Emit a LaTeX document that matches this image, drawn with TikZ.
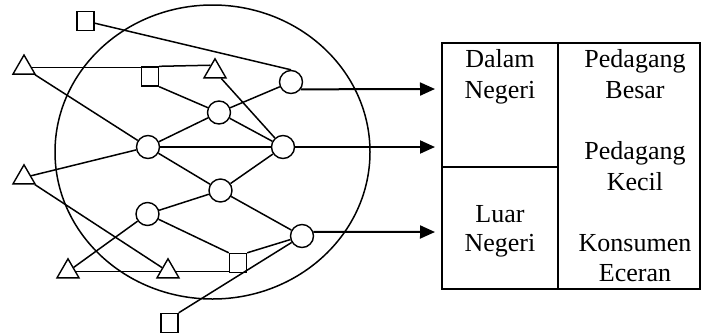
\documentclass[tikz,border=0pt]{standalone}
\usepackage{fontspec}
\setmainfont{Liberation Serif}
\usetikzlibrary{shapes.geometric,arrows.meta,calc}
\begin{document}
\begin{tikzpicture}[x=1pt,y=-1pt,
  tri/.style={draw,regular polygon,regular polygon sides=3,minimum size=25.4pt,inner sep=0pt,line width=1.4pt},
  sq/.style={draw,rectangle,minimum width=17pt,minimum height=19pt,inner sep=0pt,line width=1.4pt},
  circ/.style={draw,circle,minimum size=23pt,inner sep=0pt,line width=1.4pt},
  link/.style={line width=1.5pt},
  flow/.style={line width=2pt,-{Triangle[length=15pt,width=13pt]}},
  txt/.style={anchor=base,inner sep=0pt,font=\fontsize{26pt}{31pt}\selectfont}]
\useasboundingbox (0,0) rectangle (701,333);
% big ellipse
\draw[line width=1.5pt] (212.5,152) ellipse [x radius=157.5pt, y radius=147pt];
% nodes
\node[tri] (A1) at (24,67.7) {};
\node[tri] (A2) at (215,71.5) {};
\node[tri] (A3) at (24,177.5) {};
\node[tri] (A4) at (68,271.5) {};
\node[tri] (A5) at (168,271.5) {};
\node[sq] (S1) at (85.5,21) {};
\node[sq] (S2) at (150,76.5) {};
\node[sq] (S3) at (238,263) {};
\node[sq] (S4) at (169.5,323) {};
\node[circ] (C1) at (291,82) {};
\node[circ] (C2) at (219,112.5) {};
\node[circ] (C3) at (148,147) {};
\node[circ] (C4) at (283,147) {};
\node[circ] (C5) at (220.5,190.5) {};
\node[circ] (C6) at (147.5,214) {};
\node[circ] (C7) at (302,236) {};
% links
\draw[link] (S1) -- (C1.north);
\draw[link] (A1.east) -- (A1.east -| S2.west);
\draw[link] (S2.north east) -- ($(A2.corner 1)!0.37!(A2.corner 2)$);
\draw[link] (A1) -- (C3);
\draw[link] (S2.south east) -- (C2);
\draw[link] (C2) -- (C1);
\draw[link] (C2) -- (C4);
\draw[link] (A2) -- (C4);
\draw[link] (C3) -- (C2);
\draw[link] (C3) -- (C4);
\draw[link] (A3) -- (C3);
\draw[link] (C3) -- (C5);
\draw[link] (C4) -- (C5);
\draw[link] (C5) -- (C6);
\draw[link] (C5) -- (C7);
\draw[link] (A3) -- (A5);
\draw[link] (A4) -- (C6);
\draw[link] (A4) -- (A5);
\draw[link] (A5) -- (A5 -| S3.west);
\draw[link] (C6) -- (S3.north west);
\draw[link] (S3.north east) -- (C7);
\draw[link] (S4.north east) -- (C7);
% arrows
\coordinate (T1) at (435,89);
\coordinate (T2) at (435,147);
\coordinate (T3) at (435,232);
\draw[flow] (C1.-37) -- (T1);
\draw[flow] (C4.east) -- (T2);
\draw[flow] (C7.20) -- (T3);
% table
\coordinate (TL) at (442,43);
\coordinate (BR) at (700,289);
\draw[line width=2pt] (TL) rectangle (BR);
\draw[line width=2pt] (558,43) -- (558,289);
\draw[line width=2pt] (442,167) -- (558,167);
\node[txt] (d1) at (500,67.7) {Dalam};
\node[txt] (d2) at (500,98.5) {Negeri};
\node[txt] (l1) at (500,222) {Luar};
\node[txt] (l2) at (500,251.7) {Negeri};
\node[txt] (p1) at (635,67.7) {Pedagang};
\node[txt] (p2) at (635,98.5) {Besar};
\node[txt] (k1) at (635,159.3) {Pedagang};
\node[txt] (k2) at (635,190) {Kecil};
\node[txt] (e1) at (635,251.7) {Konsumen};
\node[txt] (e2) at (635,281.7) {Eceran};
\end{tikzpicture}
\end{document}
